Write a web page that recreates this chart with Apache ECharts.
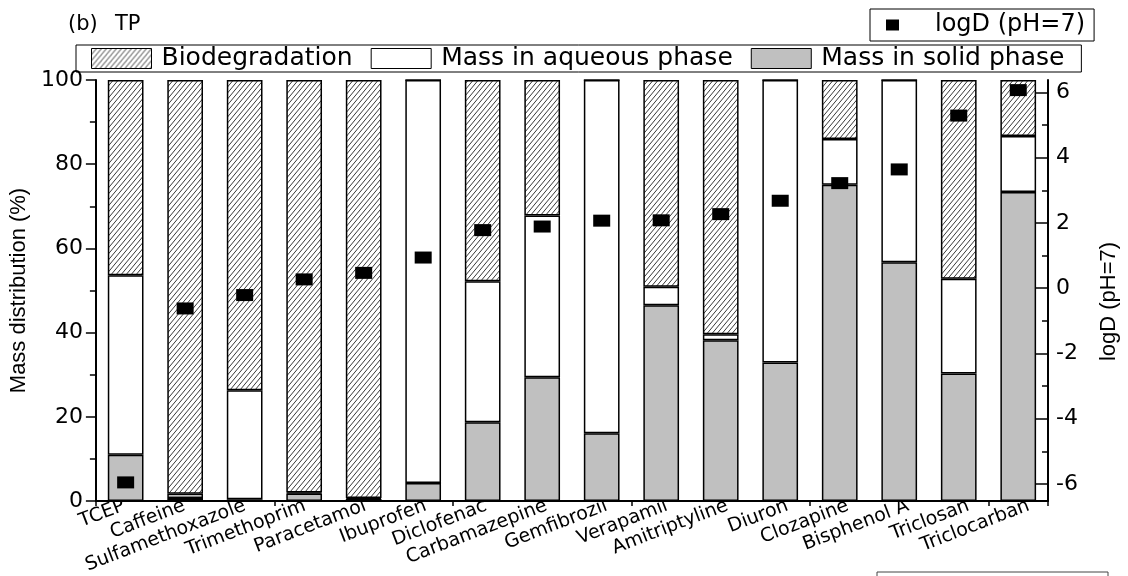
<!DOCTYPE html>
<html>
<head>
<meta charset="utf-8">
<script src="https://cdn.jsdelivr.net/npm/echarts@6/dist/echarts.min.js"></script>
<style>
html,body{margin:0;padding:0;background:#fff;}
#chart{width:1128px;height:576px;}
</style>
</head>
<body>
<div id="chart"></div>
<script>
const categories = ['TCEP','Caffeine','Sulfamethoxazole','Trimethoprim','Paracetamol','Ibuprofen','Diclofenac','Carbamazepine','Gemfibrozil','Verapamil','Amitriptyline','Diuron','Clozapine','Bisphenol A','Triclosan','Triclocarban'];
const solidPhase     = [11.0, 0.7, 0.4, 1.8, 0.5, 4.3, 18.7, 29.4, 16.1, 46.5, 38.2, 32.9, 75.1, 56.7, 30.3, 73.4];
const aqueousPhase   = [42.6, 1.0, 25.9, 0.2, 0.2, 95.7, 33.5, 38.4, 83.9, 4.4, 1.4, 67.1, 10.9, 43.3, 22.5, 13.3];
const biodegradation = [46.4, 98.3, 73.7, 98.0, 99.3, 0, 47.8, 32.2, 0, 49.1, 60.4, 0, 14.0, 0, 47.2, 13.3];
const logD           = [-5.95, -0.62, -0.21, 0.27, 0.47, 0.94, 1.78, 1.89, 2.07, 2.08, 2.27, 2.68, 3.22, 3.64, 5.29, 6.07];
const rightTickValues = [-6, -4, -2, 0, 2, 4, 6];
const rightMinorTickValues = [-5, -3, -1, 1, 3, 5];

function hatch() {
  const c = document.createElement('canvas');
  c.width = 5; c.height = 6;
  const g = c.getContext('2d');
  g.fillStyle = '#fff'; g.fillRect(0, 0, 5, 6);
  g.strokeStyle = '#222'; g.lineWidth = 0.9;
  g.beginPath();
  g.moveTo(-1, 7.2); g.lineTo(6, -1.2);
  g.moveTo(-6, 7.2); g.lineTo(1, -1.2);
  g.moveTo(4, 7.2); g.lineTo(11, -1.2);
  g.stroke();
  return c;
}
const hatchPattern = { image: hatch(), repeat: 'repeat' };

const FONT = 'DejaVu Sans';
const chart = echarts.init(document.getElementById('chart'), null, { renderer: 'canvas' });
const barBorder = { borderColor: '#000', borderWidth: 1.5 };

chart.setOption({
  animation: false,
  backgroundColor: '#fff',
  title: [
    { text: '(b)', left: 63, top: 9, textStyle: { fontFamily: FONT, fontSize: 21, fontWeight: 'normal', color: '#000' } },
    { text: 'TP', left: 110, top: 9, textStyle: { fontFamily: FONT, fontSize: 21, fontWeight: 'normal', color: '#000' } }
  ],
  legend: [
    {
      data: ['Biodegradation', 'Mass in aqueous phase', 'Mass in solid phase'],
      left: 76, top: 45,
      padding: [1, 17, 1, 15],
      itemWidth: 60, itemHeight: 20, itemGap: 18,
      icon: 'rect',
      borderColor: '#000', borderWidth: 1,
      itemStyle: { borderColor: '#000', borderWidth: 1 },
      textStyle: { fontFamily: FONT, fontSize: 25, color: '#000', lineHeight: 24, padding: [0, 0, 0, 5] },
      selectedMode: false
    },
    {
      data: ['logD (pH=7)'],
      left: 870, top: 9,
      padding: [4, 9, 4, 16],
      itemWidth: 13, itemHeight: 11,
      icon: 'rect',
      borderColor: '#000', borderWidth: 1,
      itemStyle: { color: '#000', opacity: 1 },
      textStyle: { fontFamily: FONT, fontSize: 24, color: '#000', lineHeight: 24, padding: [0, 0, 0, 31] },
      selectedMode: false
    }
  ],
  grid: [
    { left: 86, right: 77, top: 80, bottom: 75, containLabel: false },
    { left: 94, right: 69, top: 80, bottom: 75, containLabel: false, show: false }
  ],
  xAxis: [
    {
      type: 'category', data: categories, gridIndex: 0,
      axisLine: { lineStyle: { color: '#000', width: 2 } },
      axisTick: { show: true, length: 5, lineStyle: { color: '#000', width: 1.5 } },
      axisLabel: { show: false }
    },
    {
      type: 'category', data: categories, gridIndex: 1,
      axisLine: { show: false }, axisTick: { show: false },
      axisLabel: { rotate: 21, margin: 12, interval: 0, fontFamily: FONT, fontSize: 19, color: '#000' }
    }
  ],
  yAxis: [
    {
      type: 'value', min: 0, max: 100, interval: 20, gridIndex: 0,
      name: 'Mass distribution (%)', nameLocation: 'middle', nameRotate: 90, nameGap: 53,
      nameTextStyle: { fontFamily: 'Liberation Sans', fontSize: 22, color: '#000' },
      axisLine: { show: true, lineStyle: { color: '#000', width: 2 } },
      axisTick: { show: true, length: 10, lineStyle: { color: '#000', width: 1.5 } },
      minorTick: { show: true, splitNumber: 2, length: 6, lineStyle: { color: '#000', width: 1.5 } },
      axisLabel: { fontFamily: FONT, fontSize: 22, color: '#000', margin: 13 },
      splitLine: { show: false }
    },
    {
      type: 'value', min: -6.52, max: 6.38, position: 'right', gridIndex: 0,
      name: 'logD (pH=7)', nameLocation: 'middle', nameRotate: 90, nameGap: 50,
      nameTextStyle: { fontFamily: 'Liberation Sans', fontSize: 22, color: '#000', padding: [0, 22, 0, 0] },
      axisLine: { show: true, lineStyle: { color: '#000', width: 2 } },
      axisTick: { show: true, inside: true, length: 12, customValues: rightTickValues, lineStyle: { color: '#000', width: 1.5 } },
      axisLabel: { customValues: rightTickValues, fontFamily: FONT, fontSize: 22, color: '#000', margin: 8 },
      splitLine: { show: false }
    },
    {
      type: 'value', min: -6.52, max: 6.38, position: 'right', gridIndex: 0,
      axisLine: { show: false },
      axisTick: { show: true, inside: true, length: 6, customValues: rightMinorTickValues, lineStyle: { color: '#000', width: 1.5 } },
      axisLabel: { show: false },
      splitLine: { show: false }
    },
    { type: 'value', gridIndex: 1, show: false }
  ],
  series: [
    { name: 'Mass in solid phase', type: 'bar', stack: 'mass', barWidth: '60%', data: solidPhase,
      itemStyle: Object.assign({ color: '#c0c0c0' }, barBorder) },
    { name: 'Mass in aqueous phase', type: 'bar', stack: 'mass', barWidth: '60%', data: aqueousPhase,
      itemStyle: Object.assign({ color: '#ffffff' }, barBorder) },
    { name: 'Biodegradation', type: 'bar', stack: 'mass', barWidth: '60%', data: biodegradation,
      itemStyle: Object.assign({ color: hatchPattern }, barBorder) },
    { name: 'logD (pH=7)', type: 'scatter', yAxisIndex: 1, data: logD, symbol: 'rect', symbolSize: [17, 12],
      itemStyle: { color: '#000', opacity: 1 }, z: 5 }
  ],
  graphic: [
    { type: 'rect', shape: { x: 877, y: 572, width: 231, height: 20 }, style: { fill: 'none', stroke: '#444', lineWidth: 1 } }
  ]
});
</script>
</body>
</html>
